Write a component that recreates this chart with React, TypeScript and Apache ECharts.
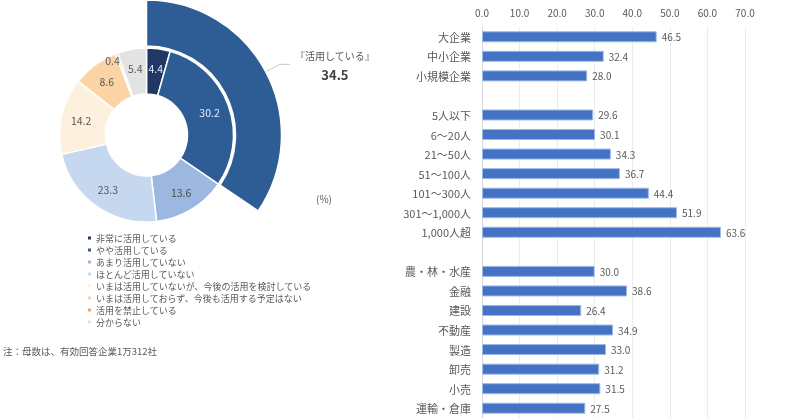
import {useEffect, useRef} from 'react';
import * as echarts from 'echarts';

// inner ring: usage of generative AI (%)
const ringNames = [
    '非常に活用している',
    'やや活用している',
    'あまり活用していない',
    'ほとんど活用していない',
    'いまは活用していないが、今後の活用を検討している',
    'いまは活用しておらず、今後も活用する予定はない',
    '活用を禁止している',
    '分からない'
];
const ringValues = [4.4, 30.2, 13.6, 23.3, 14.2, 8.6, 0.4, 5.4];
const ringColors = ['#203864', '#2e5c95', '#9cb8e0', '#c6d8f0', '#fef0df', '#fbd3a5', '#f4a460', '#e3e3e3'];
const ringLabelColors = ['#e8eef8', '#e8eef8', '#4a4a4a', '#595959', '#595959', '#595959', '#595959', '#595959'];

// outer sector: "活用している" total
const outerName = '活用している';
const outerValue = 34.5;

// bar chart: share of companies using it, by size and industry (%)
const barCategories = [
    '大企業', '中小企業', '小規模企業', ' ',
    '5人以下', '6～20人', '21～50人', '51～100人', '101～300人', '301～1,000人', '1,000人超', '  ',
    '農・林・水産', '金融', '建設', '不動産', '製造', '卸売', '小売', '運輸・倉庫'
];
const barValues = [
    46.5, 32.4, 28.0, null,
    29.6, 30.1, 34.3, 36.7, 44.4, 51.9, 63.6, null,
    30.0, 38.6, 26.4, 34.9, 33.0, 31.2, 31.5, 27.5
];
const xTicks = {min: 0, max: 70, interval: 10};

const FONT = '"Noto Sans CJK JP", "Noto Sans", sans-serif';

export default function App() {
    const ref = useRef<HTMLDivElement | null>(null);

    useEffect(() => {
        if (!ref.current) return;
        const chart = echarts.init(ref.current, null, {renderer: 'svg'});
        const center = [146.5, 135];

        chart.setOption({
            animation: false,
            textStyle: {fontFamily: FONT},
            legend: {
                data: ringNames,
                orient: 'vertical',
                left: 81,
                top: 227,
                itemWidth: 5,
                itemHeight: 5,
                itemGap: 0,
                icon: 'rect',
                selectedMode: false,
                textStyle: {fontSize: 9, lineHeight: 12, color: '#595959', padding: [0, 0, 0, -1]}
            },
            grid: {left: 482, top: 27, right: 55, bottom: 0},
            xAxis: {
                type: 'value',
                position: 'top',
                ...xTicks,
                axisLine: {show: false},
                axisTick: {show: false},
                axisLabel: {fontSize: 10, color: '#595959', margin: 10, formatter: (v: number) => v.toFixed(1)},
                splitLine: {lineStyle: {color: '#ececec'}}
            },
            yAxis: {
                type: 'category',
                inverse: true,
                data: barCategories,
                axisLine: {lineStyle: {color: '#d9d9d9'}},
                axisTick: {show: false},
                axisLabel: {fontSize: 11, color: '#595959', margin: 11}
            },
            series: [
                {
                    type: 'pie',
                    center,
                    radius: [41, 87],
                    startAngle: 90,
                    silent: true,
                    itemStyle: {borderColor: '#ffffff', borderWidth: 1.5},
                    labelLayout: (p: any) => (p.dataIndex === 6 ? {dx: -11, dy: -12} : {}),
                    data: ringNames.map((name, i) => ({
                        name,
                        value: ringValues[i],
                        itemStyle: {color: ringColors[i]},
                        label: {
                            show: true,
                            position: 'inside',
                            fontSize: 10.5,
                            color: ringLabelColors[i],
                            formatter: (p: any) => p.value.toFixed(1)
                        }
                    }))
                },
                {
                    type: 'pie',
                    center,
                    radius: [89, 135],
                    startAngle: 90,
                    silent: true,
                    itemStyle: {borderColor: '#ffffff', borderWidth: 1.5},
                    label: {show: false},
                    labelLine: {show: false},
                    data: [
                        {name: outerName, value: outerValue, itemStyle: {color: '#2e5c95'}},
                        {name: 'rest', value: 100 - outerValue, itemStyle: {color: 'transparent', borderWidth: 0}}
                    ]
                },
                {
                    // carries the leader line and the label of the outer sector
                    type: 'pie',
                    center,
                    radius: [0, 111],
                    startAngle: 90,
                    silent: true,
                    itemStyle: {color: 'transparent', borderWidth: 0},
                    data: [
                        {
                            name: outerName,
                            value: outerValue,
                            label: {
                                show: true,
                                position: 'outside',
                                formatter: `{a|『${outerName}』}\n{b|${outerValue.toFixed(1)}}`,
                                rich: {
                                    a: {fontSize: 10, color: '#595959', lineHeight: 20, align: 'center', padding: [6, 0, 0, 0]},
                                    b: {fontSize: 13, fontWeight: 'bold', color: '#404040', lineHeight: 24, align: 'center'}
                                }
                            },
                            labelLine: {show: true, length: 40, length2: 10, lineStyle: {color: '#c8c8c8', width: 1}}
                        },
                        {name: 'rest', value: 100 - outerValue, label: {show: false}, labelLine: {show: false}}
                    ]
                },
                {
                    type: 'bar',
                    data: barValues,
                    barWidth: 11,
                    itemStyle: {color: '#4472c4', borderColor: '#9dbbe6', borderWidth: 1},
                    label: {
                        show: true,
                        position: 'right',
                        distance: 5,
                        fontSize: 10,
                        color: '#595959',
                        formatter: (p: any) => p.value.toFixed(1)
                    }
                }
            ],
            graphic: [
                {type: 'text', left: 316, top: 193, style: {text: '(%)', fontSize: 10, fill: '#595959', fontFamily: FONT}},
                {type: 'text', left: 3, top: 346, style: {text: '注：母数は、有効回答企業1万312社', fontSize: 9.5, fill: '#595959', fontFamily: FONT}}
            ]
        });

        return () => chart.dispose();
    }, []);

    return <div ref={ref} style={{position: 'fixed', left: 0, top: 0, width: 800, height: 418}}/>;
}
